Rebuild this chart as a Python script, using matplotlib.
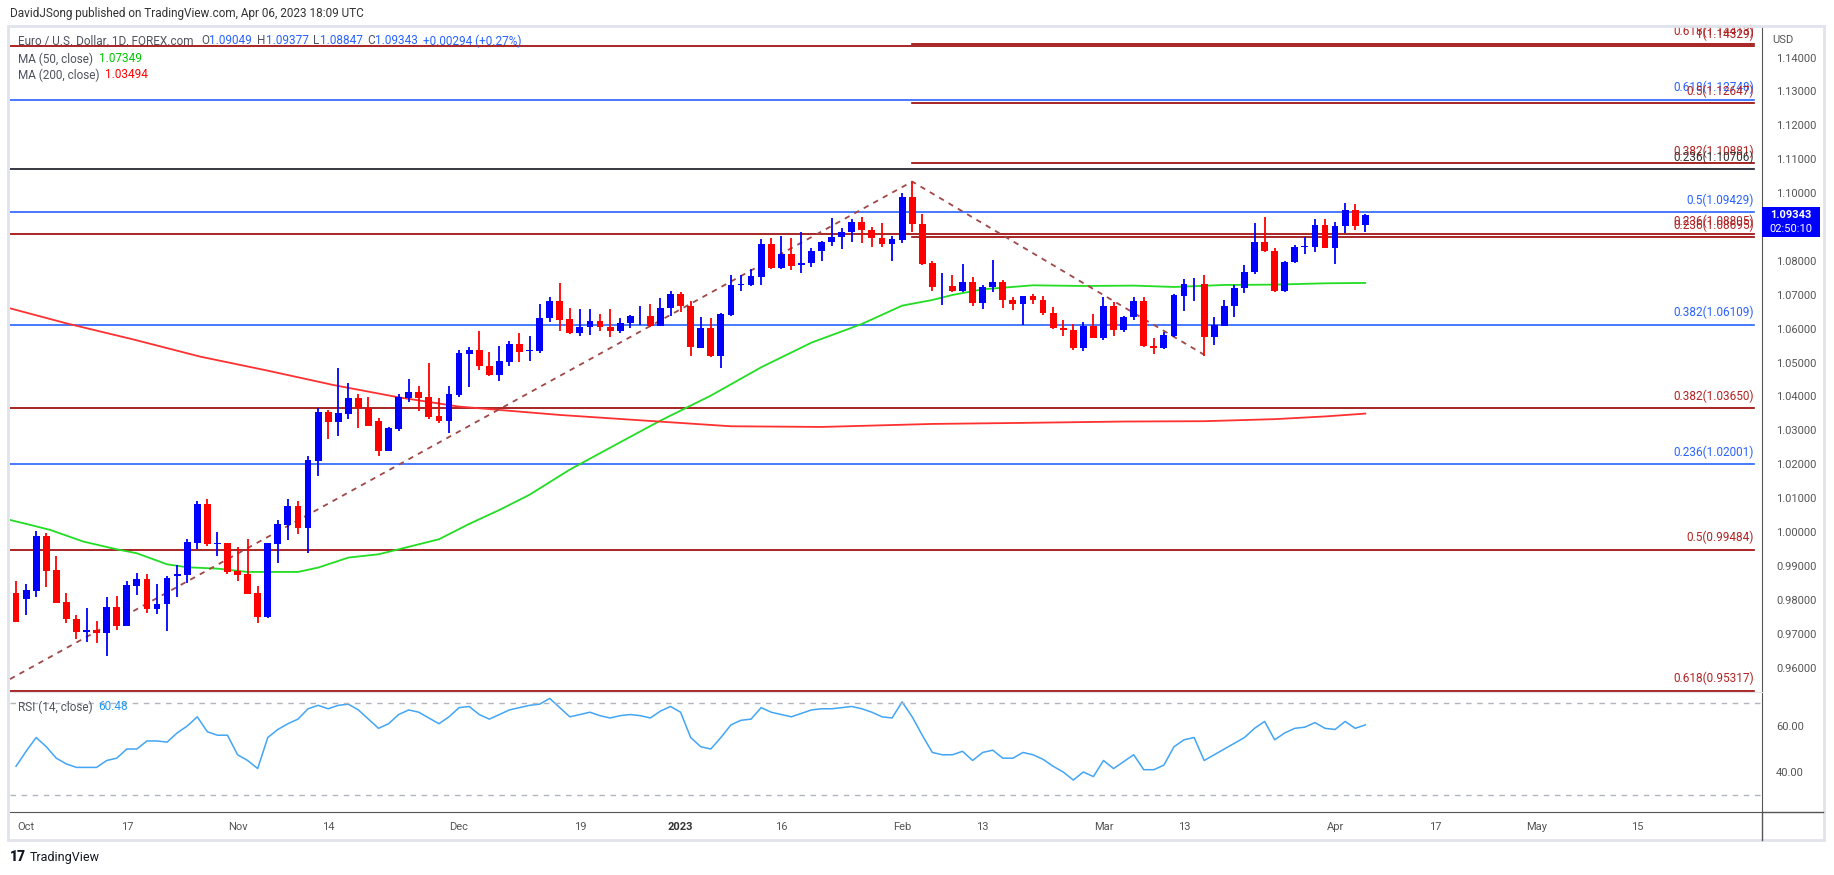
import matplotlib.pyplot as plt
from matplotlib.patches import Rectangle
from matplotlib.lines import Line2D
import numpy as np
import pandas as pd

plt.rcParams['font.family'] = ['Roboto', 'DejaVu Sans']

W, H = 1834, 875

# daily EUR/USD candles, Sep 30 2022 .. Apr 06 2023
opens = [0.98193, 0.98026, 0.98272, 0.99884, 0.98881, 0.97927, 0.97436, 0.97042, 0.97111, 0.97032,
         0.97799, 0.97239, 0.98419, 0.98616, 0.97731, 0.97868, 0.98714, 0.98734, 0.99687, 1.00828,
         0.99648, 0.99677, 0.98852, 0.98763, 0.98203, 0.97505, 0.99648, 1.00209, 1.00769, 1.00120,
         1.02096, 1.03542, 1.03257, 1.03493, 1.03955, 1.03650, 1.03276, 1.02401, 1.03050, 1.03955,
         1.04132, 1.03984, 1.03424, 1.03286, 1.04053, 1.05244, 1.05381, 1.04910, 1.04644, 1.05027,
         1.05558, 1.05330, 1.05352, 1.06306, 1.06827, 1.06296, 1.05863, 1.06040, 1.06237, 1.06060,
         1.05942, 1.06158, 1.06364, 1.06384, 1.06090, 1.06600, 1.07033, 1.06679, 1.05440, 1.06030,
         1.05185, 1.06414, 1.07290, 1.07299, 1.07535, 1.08508, 1.07781, 1.08213, 1.07869, 1.07928,
         1.08282, 1.08548, 1.08695, 1.08842, 1.09157, 1.08921, 1.08685, 1.08489, 1.08626, 1.09895,
         1.09098, 1.07948, 1.07250, 1.07270, 1.07102, 1.07387, 1.06748, 1.07220, 1.07387, 1.06856,
         1.06719, 1.06955, 1.06856, 1.06473, 1.06030, 1.05971, 1.05420, 1.06090, 1.05716, 1.06679,
         1.05952, 1.06335, 1.06827, 1.05499, 1.05420, 1.05775, 1.06974, 1.07309, 1.07328, 1.05745,
         1.06090, 1.06660, 1.07191, 1.07663, 1.08567, 1.08302, 1.07102, 1.07958, 1.08400, 1.08420,
         1.09069, 1.08390, 1.09020, 1.09511, 1.09049]
highs = [0.98557, 0.98468, 1.00031, 0.99963, 0.99294, 0.98193, 0.97554, 0.97750, 0.97377, 0.98094,
         0.98114, 0.98557, 0.98783, 0.98763, 0.98468, 0.98704, 0.99029, 0.99786, 1.00917, 1.00975,
         1.00012, 0.99690, 0.99560, 0.99796, 0.98409, 0.99680, 1.00356, 1.00966, 1.00917, 1.02244,
         1.03650, 1.03601, 1.04840, 1.04397, 1.04063, 1.03984, 1.03355, 1.03099, 1.04063, 1.04515,
         1.04309, 1.04987, 1.03955, 1.04309, 1.05371, 1.05450, 1.05942, 1.05320, 1.05499, 1.05647,
         1.05883, 1.05794, 1.06738, 1.06945, 1.07358, 1.06620, 1.06591, 1.06591, 1.06443, 1.06591,
         1.06325, 1.06390, 1.06679, 1.06738, 1.06915, 1.07122, 1.07092, 1.06827, 1.06355, 1.06325,
         1.06463, 1.07594, 1.07594, 1.07771, 1.08656, 1.08685, 1.08744, 1.08685, 1.08862, 1.08390,
         1.08597, 1.09275, 1.08980, 1.09245, 1.09305, 1.09010, 1.09128, 1.08744, 1.10013, 1.10337,
         1.09393, 1.07987, 1.07653, 1.07594, 1.07918, 1.07535, 1.07299, 1.08036, 1.07446, 1.06925,
         1.06960, 1.07033, 1.06974, 1.06650, 1.06266, 1.06148, 1.06207, 1.06443, 1.06945, 1.06797,
         1.06384, 1.06945, 1.06945, 1.05735, 1.05912, 1.07010, 1.07476, 1.07505, 1.07594, 1.06355,
         1.06856, 1.07299, 1.07889, 1.09128, 1.09305, 1.08390, 1.08007, 1.08480, 1.08715, 1.09245,
         1.09245, 1.09157, 1.09718, 1.09688, 1.09377]
lows = [0.97340, 0.97554, 0.98094, 0.98389, 0.97900, 0.97308, 0.96846, 0.96767, 0.96718, 0.96354,
        0.97111, 0.97230, 0.98144, 0.97623, 0.97583, 0.97092, 0.98094, 0.98507, 0.99491, 0.99599,
        0.99294, 0.98763, 0.98566, 0.98170, 0.97328, 0.97475, 0.99097, 0.99766, 0.99943, 0.99392,
        1.01654, 1.02745, 1.02844, 1.03335, 1.03080, 1.03130, 1.02254, 1.02390, 1.02991, 1.03847,
        1.03581, 1.03345, 1.03227, 1.02932, 1.03974, 1.04290, 1.04791, 1.04595, 1.04447, 1.04910,
        1.05027, 1.05057, 1.05293, 1.06188, 1.05922, 1.05850, 1.05775, 1.05804, 1.05922, 1.05745,
        1.05863, 1.06011, 1.06119, 1.06040, 1.06080, 1.06384, 1.06502, 1.05204, 1.05420, 1.05155,
        1.04831, 1.06384, 1.07122, 1.07270, 1.07299, 1.07770, 1.07770, 1.07740, 1.07653, 1.07830,
        1.07987, 1.08449, 1.08361, 1.08567, 1.08518, 1.08400, 1.08400, 1.07987, 1.08518, 1.08862,
        1.07890, 1.07102, 1.06689, 1.07090, 1.07090, 1.06660, 1.06571, 1.07073, 1.06601, 1.06542,
        1.06109, 1.06719, 1.06394, 1.06000, 1.05775, 1.05362, 1.05332, 1.05710, 1.05657, 1.05775,
        1.05893, 1.06247, 1.05470, 1.05244, 1.05391, 1.05745, 1.06512, 1.06807, 1.05185, 1.05509,
        1.06070, 1.06335, 1.07043, 1.07604, 1.08253, 1.07090, 1.07090, 1.07950, 1.08193, 1.08253,
        1.08371, 1.07899, 1.08833, 1.08921, 1.08847]
closes = [0.97357, 0.98291, 0.99884, 0.98861, 0.97917, 0.97426, 0.97042, 0.97111, 0.97032, 0.97799,
          0.97239, 0.98439, 0.98616, 0.97731, 0.97878, 0.98635, 0.98763, 0.99707, 1.00828, 0.99648,
          0.99677, 0.98822, 0.98734, 0.98173, 0.97505, 0.99677, 1.00238, 1.00769, 1.00120, 1.02126,
          1.03542, 1.03257, 1.03512, 1.03955, 1.03650, 1.03139, 1.02401, 1.03070, 1.03984, 1.04132,
          1.03955, 1.03404, 1.03286, 1.04073, 1.05282, 1.05381, 1.04890, 1.04644, 1.05057, 1.05558,
          1.05320, 1.05370, 1.06325, 1.06827, 1.06266, 1.05863, 1.06060, 1.06237, 1.06040, 1.05942,
          1.06178, 1.06384, 1.06384, 1.06090, 1.06620, 1.07033, 1.06660, 1.05450, 1.06030, 1.05185,
          1.06443, 1.07299, 1.07320, 1.07564, 1.08508, 1.07781, 1.08213, 1.07859, 1.07948, 1.08302,
          1.08567, 1.08715, 1.08862, 1.09157, 1.08901, 1.08666, 1.08489, 1.08656, 1.09895, 1.09079,
          1.07899, 1.07240, 1.07270, 1.07102, 1.07387, 1.06748, 1.07240, 1.07387, 1.06837, 1.06719,
          1.06955, 1.06837, 1.06453, 1.06011, 1.05952, 1.05420, 1.06090, 1.05716, 1.06679, 1.05952,
          1.06355, 1.06827, 1.05480, 1.05420, 1.05824, 1.07004, 1.07328, 1.07330, 1.05745, 1.06119,
          1.06679, 1.07210, 1.07682, 1.08567, 1.08282, 1.07102, 1.07977, 1.08420, 1.08449, 1.09069,
          1.08390, 1.09040, 1.09511, 1.09020, 1.09343]

rsi = [42.5, 49, 55, 51, 46, 43.5, 42, 42, 42, 45, 46, 50, 50, 53.5, 53.5, 53, 57, 60, 64, 57.5,
       56, 56, 47.5, 45, 41.5, 55, 58.5, 61, 63, 67.5, 69, 67.5, 69, 69.5, 67, 63, 59, 61, 65, 67,
       66, 63.5, 61, 64, 68, 68.5, 65, 63, 65, 67, 68, 69, 69.5, 72, 68, 64, 65, 66, 64.5, 63.5,
       64.5, 65, 64.5, 63.5, 66.5, 68.5, 66, 55, 51, 50, 55, 60.5, 62.5, 63, 68, 66, 65, 64, 65.5, 67,
       67.5, 67.5, 68, 68.5, 67.5, 66, 64, 63.5, 70.5, 64, 56, 48.5, 47.5, 47.5, 49, 45, 48.5, 49.5, 46, 46,
       48.5, 47.5, 45.5, 42.5, 40, 36.5, 40, 38, 45, 41.5, 44.5, 47.5, 41, 41, 43, 51, 54, 55, 45, 47.5,
       50, 52.5, 55, 59, 62, 54, 57, 59, 59.5, 61.5, 59, 58.5, 62, 59, 60.48]

# moving averages, read at a number of bars
ma50_x = [-0.6, 1.7, 3.4, 6.7, 10, 12, 15, 17, 20, 23, 28, 30, 33, 36, 38, 42, 45, 48, 51, 55,
          60, 64, 69, 74, 79, 84, 88, 91, 93, 96, 101, 106, 111, 115, 120, 125, 130, 134]
ma50_y = [1.00356, 1.00189, 1.00061, 0.99717, 0.9949, 0.99373, 0.99048, 0.9896, 0.9892, 0.98822,
          0.98822, 0.9895, 0.99245, 0.99343, 0.9949, 0.99786, 1.00238, 1.0065, 1.011, 1.01842,
          1.02648, 1.03287, 1.04024, 1.0486, 1.05588, 1.06138, 1.06679, 1.06846, 1.06994, 1.07161,
          1.07279, 1.07259, 1.0727, 1.0723, 1.07289, 1.07299, 1.07338, 1.07349]
ma200_x = [-0.6, 5, 11.6, 18.3, 25, 31.5, 38, 44, 54, 64, 71, 80, 91, 100, 110, 118, 125, 130, 134]
ma200_y = [1.066, 1.06157, 1.05685, 1.05174, 1.04761, 1.04338, 1.03974, 1.037, 1.03454, 1.03257,
           1.0312, 1.031, 1.03189, 1.0322, 1.0326, 1.0327, 1.0333, 1.0341, 1.03494]

# dashed trend lines (bar, price)
trend_x = [-0.6, 89, 118]
trend_y = [0.9566, 1.1034, 1.0523]

fib_prices = [1.14413, 1.14329, 1.12748, 1.12647, 1.10881, 1.10706, 1.09429, 1.08805, 1.08695,
              1.06109, 1.03650, 1.02001, 0.99484, 0.95317]
fib_labels = ['0.618(1.14413)', '1(1.14329)', '0.618(1.12748)', '0.5(1.12647)', '0.382(1.10881)',
              '0.236(1.10706)', '0.5(1.09429)', '0.236(1.08805)', '0.236(1.08695)', '0.382(1.06109)',
              '0.382(1.03650)', '0.236(1.02001)', '0.5(0.99484)', '0.618(0.95317)']
fib_kind = ['r', 'r', 'b', 'r', 'r', 'k', 'b', 'r', 'r', 'b', 'r', 'b', 'r', 'r']
fib_from_feb = [True, False, False, True, True, False, False, False, True, False, False, False, False, False]

tick_dates = ['2022-10-03', '2022-10-17', '2022-11-01', '2022-11-14', '2022-12-01', '2022-12-19',
              '2023-01-02', '2023-01-16', '2023-02-01', '2023-02-13', '2023-03-01', '2023-03-13',
              '2023-04-03', '2023-04-17', '2023-05-01', '2023-05-15']
tick_names = ['Oct', '17', 'Nov', '14', 'Dec', '19', '2023', '16', 'Feb', '13', 'Mar', '13',
              'Apr', '17', 'May', '15']

opens, highs, lows, closes = map(np.array, (opens, highs, lows, closes))
x = np.arange(len(opens))
days = pd.bdate_range('2022-09-30', periods=len(opens) + 60)
tick_pos = [days.get_loc(pd.Timestamp(d)) for d in tick_dates]

UP, DOWN = '#0000ff', '#ff0000'
FIBC = {'r': '#990000', 'b': '#2962ff', 'k': '#131722'}
LABC = {'r': '#b22222', 'b': '#2962ff', 'k': '#333333'}
GRAY = '#555555'

fig = plt.figure(figsize=(W / 100, H / 100), dpi=100)


def fx(px):
    return px / W


def fy(py):
    return 1 - py / H


XL = (-0.6, 173.4)
ax = fig.add_axes([fx(10), fy(692), fx(1762) - fx(10), fy(27) - fy(692)])
rax = fig.add_axes([fx(10), fy(812), fx(1762) - fx(10), fy(692) - fy(812)])

# candles
cols = np.where(closes >= opens, UP, DOWN)
ax.vlines(x, lows, highs, colors=cols, lw=1.3, zorder=3)
body = np.maximum(np.abs(closes - opens), 0.00012)
ax.bar(x, body, bottom=np.minimum(opens, closes), width=0.68, color=cols, zorder=4)

ax.plot(ma50_x, ma50_y, color='#22dd22', lw=1.3, zorder=2)
ax.plot(ma200_x, ma200_y, color='#ff3030', lw=1.3, zorder=2)
ax.plot(trend_x, trend_y, color='#a04848', lw=1.3, ls=(0, (3, 3)), zorder=2)

for p, lab, k, feb in zip(fib_prices, fib_labels, fib_kind, fib_from_feb):
    x0 = 89 if feb else XL[0]
    ax.plot([x0, 172.6], [p, p], color=FIBC[k], lw=1.2, zorder=1)
    ax.annotate(lab, (172.6, p), xytext=(0, 4), textcoords='offset points',
                ha='right', va='bottom', fontsize=8.5, color=LABC[k])

ax.set_xlim(*XL)
ax.set_ylim(0.9528, 1.1490)
yt = [round(0.96 + 0.01 * i, 2) for i in range(19)]
ax.set_yticks(yt)
ax.set_yticklabels(['' if abs(v - 1.09) < 1e-6 else '%.5f' % v for v in yt])
ax.yaxis.tick_right()
ax.tick_params(axis='y', length=0, pad=10, labelsize=8, labelcolor=GRAY)
ax.set_xticks([])
for s in ['top', 'left', 'bottom']:
    ax.spines[s].set_visible(False)
ax.spines['right'].set_color(GRAY)

# RSI pane
rax.plot(x, rsi, color='#42a5f5', lw=1.1)
for lvl in (70, 30):
    rax.axhline(lvl, color='#b2b5be', lw=1, ls=(0, (4, 4)))
rax.set_xlim(*XL)
rax.set_ylim(22.6, 74.8)
rax.set_yticks([40, 60])
rax.set_yticklabels(['40.00', '60.00'])
rax.yaxis.tick_right()
rax.tick_params(axis='y', length=0, pad=10, labelsize=8, labelcolor=GRAY)
rax.set_xticks(tick_pos)
rax.set_xticklabels(tick_names)
rax.tick_params(axis='x', length=0, pad=7, labelsize=8, labelcolor=GRAY)
for lbl in rax.get_xticklabels():
    if lbl.get_text() == '2023':
        lbl.set_fontweight('bold')
        lbl.set_color('#333333')
rax.spines['top'].set_color('#e0e3eb')
rax.spines['left'].set_visible(False)
rax.spines['right'].set_color(GRAY)
rax.spines['bottom'].set_color(GRAY)

# frame and axis extras
fig.patches.append(Rectangle((fx(8), fy(840)), fx(1824) - fx(8), fy(26) - fy(840),
                             transform=fig.transFigure, fill=False, ec='#e0e3eb', lw=2))
fig.lines.append(Line2D([fx(1762), fx(1762)], [fy(812), fy(840)], transform=fig.transFigure,
                        color=GRAY, lw=1))
fig.lines.append(Line2D([fx(1762), fx(1823)], [fy(812), fy(812)], transform=fig.transFigure,
                        color=GRAY, lw=1))
fig.text(fx(1772), fy(40), 'USD', fontsize=8, color=GRAY, va='center')

# last price tag
fig.patches.append(Rectangle((fx(1762), fy(237)), fx(1820) - fx(1762), fy(207) - fy(237),
                             transform=fig.transFigure, fc='#0000ff', ec='none'))
fig.text(fx(1791), fy(215), '1.09343', fontsize=8, color='white', weight='bold',
         ha='center', va='center')
fig.text(fx(1791), fy(229), '02:50:10', fontsize=8, color='white', ha='center', va='center')

renderer = fig.canvas.get_renderer()


def seq_text(x0, y0, parts, size=8.5):
    xp = x0
    for s, c, gap in parts:
        t = fig.text(fx(xp), fy(y0), s, color=c, fontsize=size, va='center', ha='left')
        xp += t.get_window_extent(renderer).width + gap


fig.text(fx(10), fy(14), 'DavidJSong published on TradingView.com, Apr 06, 2023 18:09 UTC',
         fontsize=8.5, color='#333333', va='center')
TXT = '#50535e'
VAL = '#2962ff'
seq_text(18, 41, [('Euro / U.S. Dollar, 1D, FOREX.com', TXT, 8),
                  ('O', TXT, 0), ('1.09049', VAL, 5), ('H', TXT, 0), ('1.09377', VAL, 5),
                  ('L', TXT, 0), ('1.08847', VAL, 5), ('C', TXT, 0), ('1.09343', VAL, 5),
                  ('+0.00294 (+0.27%)', VAL, 0)])
seq_text(18, 59, [('MA (50, close)', TXT, 6), ('1.07349', '#00c800', 0)])
seq_text(18, 75, [('MA (200, close)', TXT, 6), ('1.03494', '#ff0000', 0)])
seq_text(18, 707, [('RSI (14, close)', TXT, 6), ('60.48', '#2196f3', 0)])

fig.text(fx(10), fy(857), '17', fontsize=10, weight='heavy', color='#131722', va='center')
fig.text(fx(30), fy(857), 'TradingView', fontsize=9, color='#131722', va='center')

fig.savefig('out.png', dpi=100, facecolor='white')
